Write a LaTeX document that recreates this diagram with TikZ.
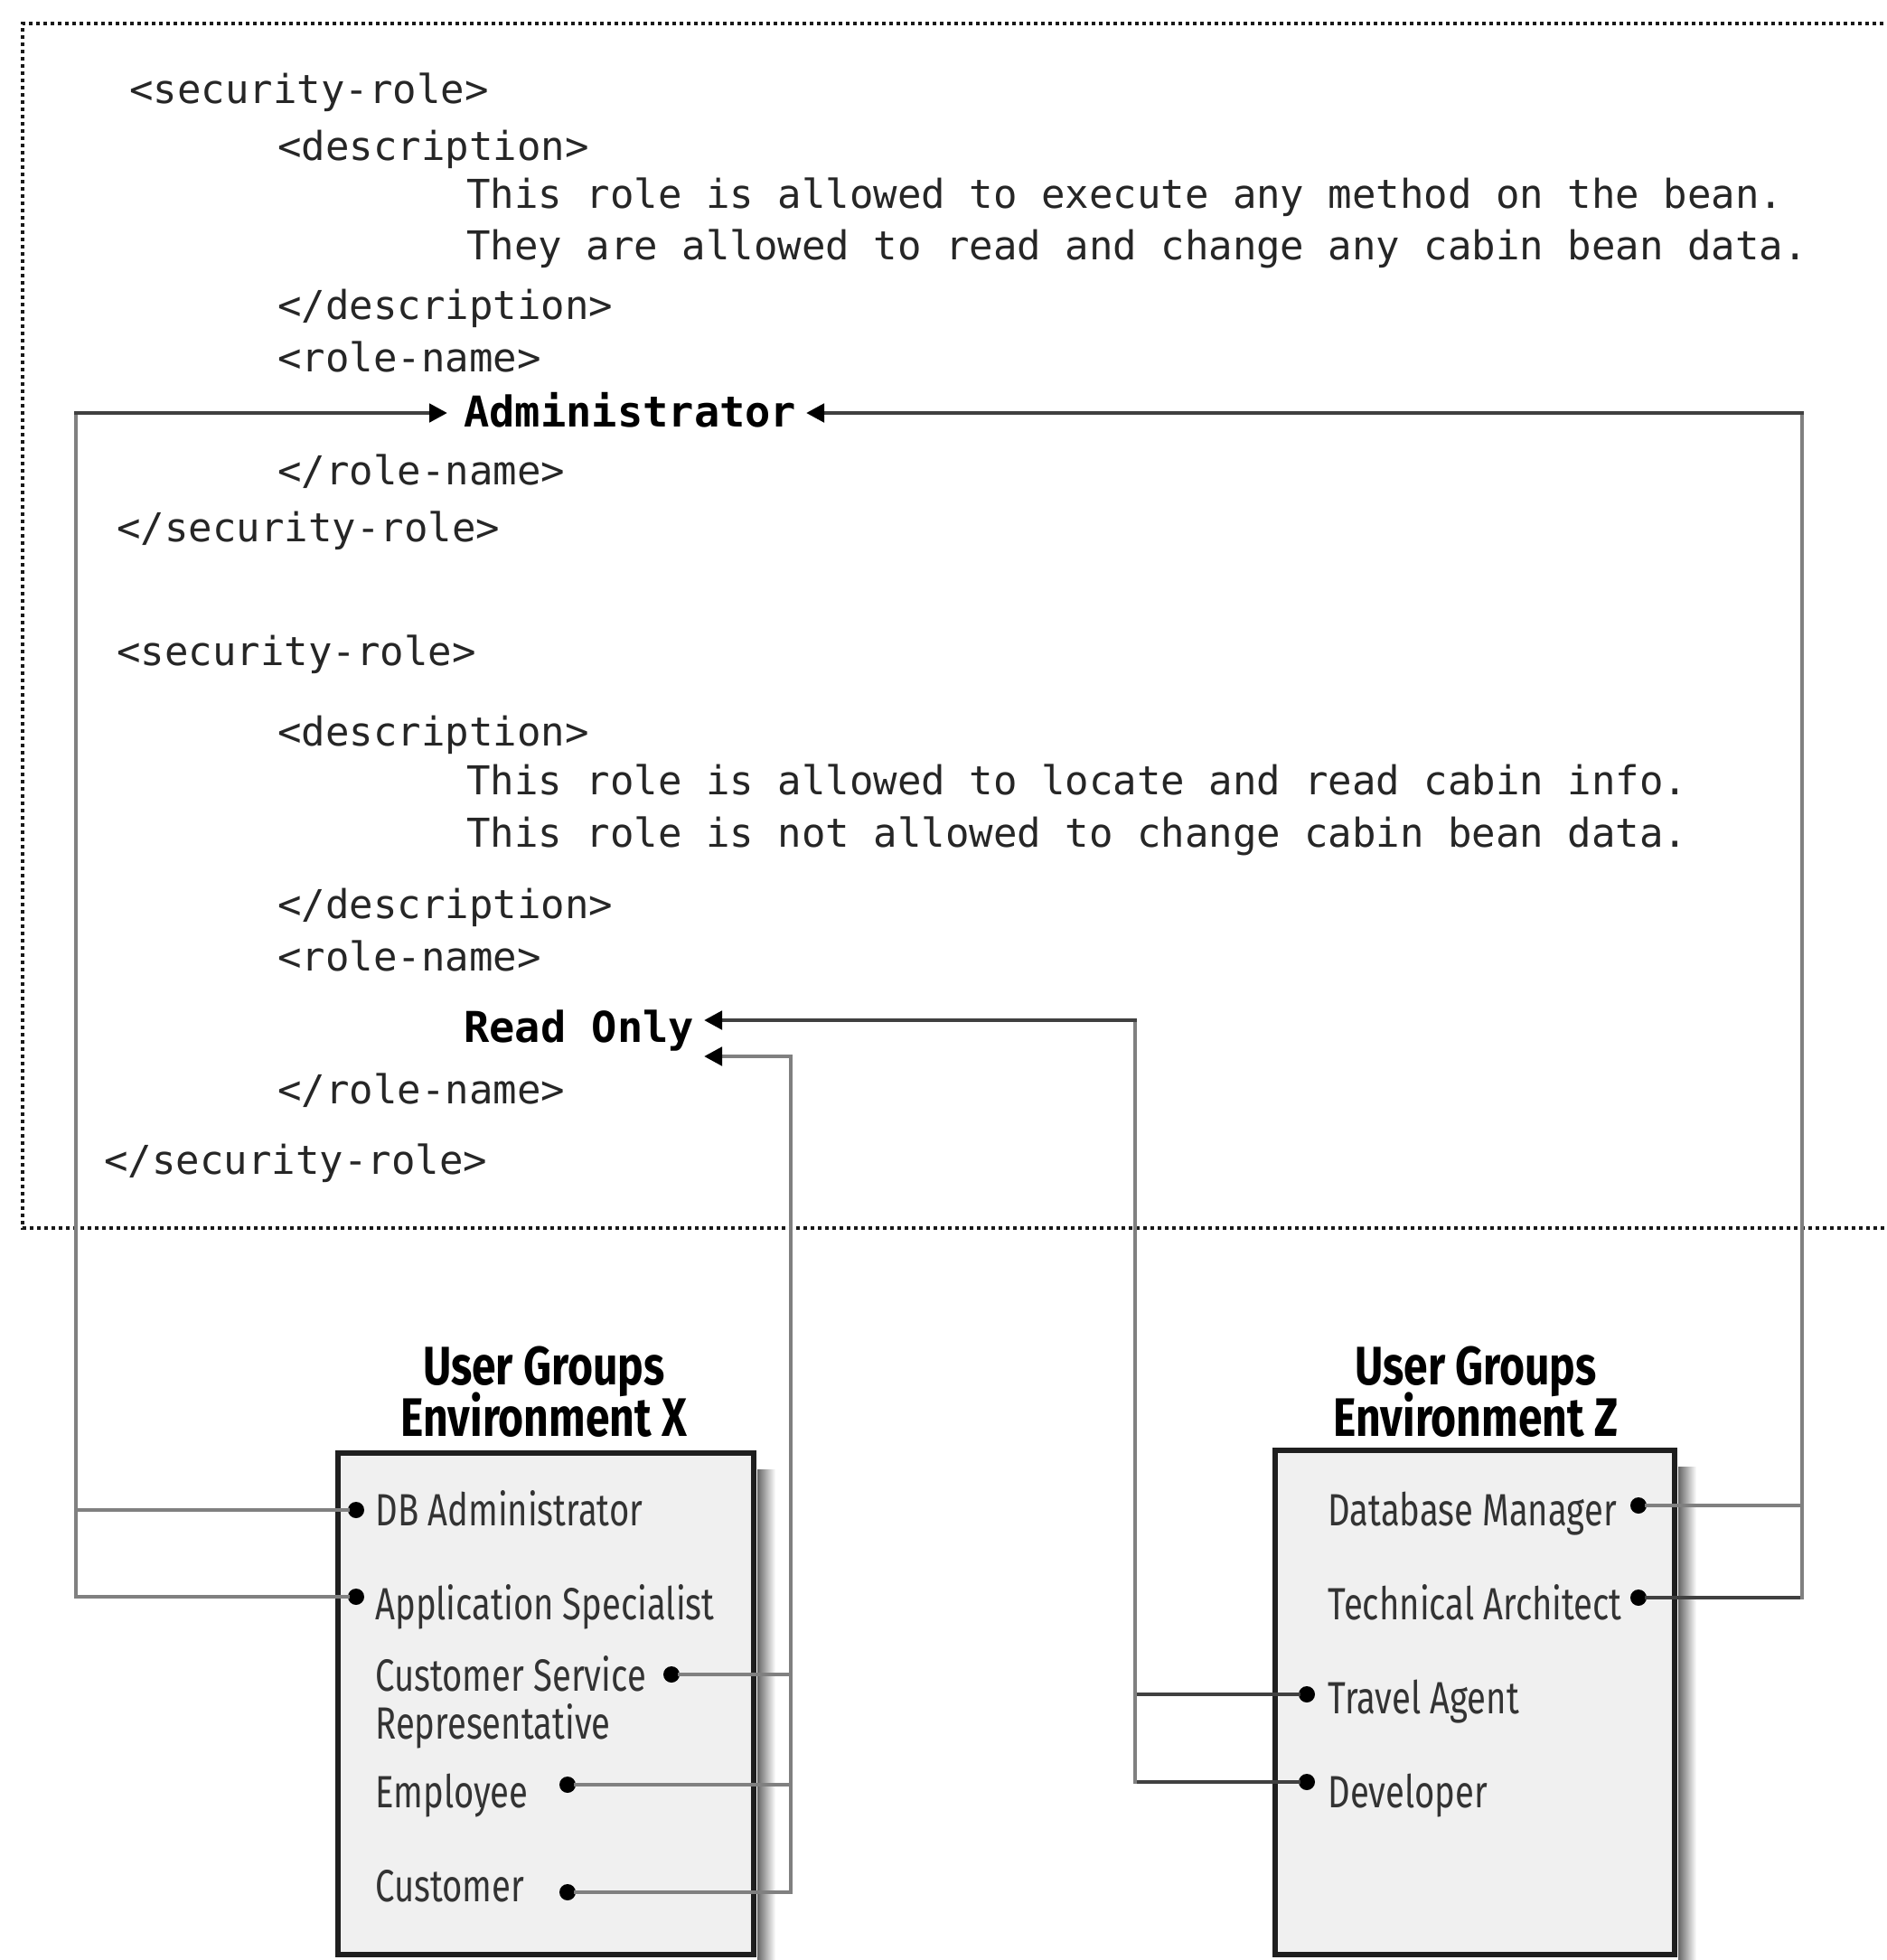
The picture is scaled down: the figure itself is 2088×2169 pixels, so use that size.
\documentclass[tikz,border=0pt]{standalone}
\usepackage{fontspec}
\setmonofont{DejaVu Sans Mono}
\newfontfamily\labfont[FakeStretch=0.765]{Fira Sans}
\newfontfamily\titfont[FakeStretch=0.8]{Fira Sans}
\usetikzlibrary{arrows.meta}
\tikzset{
  code/.style={font=\fontsize{22}{26}\selectfont\ttfamily, anchor=base west, inner sep=0pt, text=black!85},
  codeb/.style={font=\fontsize{23.5}{26}\selectfont\ttfamily\bfseries, anchor=base west, inner sep=0pt, text=black},
  lab/.style={font=\fontsize{25}{30}\selectfont\labfont, anchor=base west, inner sep=0pt, text=black!80},
  tit/.style={font=\fontsize{30}{30}\selectfont\titfont\bfseries, anchor=base, inner sep=0pt, text=black},
  dotn/.style={circle, fill=black, inner sep=0pt, minimum size=9pt},
  darkln/.style={draw=black!75, line width=2.4pt, line cap=rect},
  grayln/.style={draw=black!50, line width=2.4pt, line cap=rect},
  tipst/.style={-{Triangle[length=10pt,width=10pt,color=black]}},
  frame/.style={draw=black!90, line width=2.2pt, dash pattern=on 2pt off 2pt},
  boxst/.style={draw=black!88, line width=2.6pt, fill=black!6},
}
\begin{document}
\begin{tikzpicture}[x=0.5pt,y=-0.5pt]
\useasboundingbox (0,0) rectangle (2088,2169);
\clip (0,0) rectangle (2088,2169);
\fill[white] (0,0) rectangle (2088,2169);

% dotted frame
\draw[frame] (2100,26) -- (25,26) -- (25,1359) -- (2100,1359);

% code text
\node[code] (t1) at (143,114) {<security-role>};
\node[code] (t2) at (307,177) {<description>};
\node[code] (t3) at (516,230) {This role is allowed to execute any method on the bean.};
\node[code] (t4) at (516,287) {They are allowed to read and change any cabin bean data.};
\node[code] (t5) at (307,353) {</description>};
\node[code] (t6) at (307,411) {<role-name>};
\node[codeb] (admin) at (513,472) {Administrator};
\node[code] (t8) at (307,536) {</role-name>};
\node[code] (t9) at (129,599) {</security-role>};
\node[code] (t10) at (129,736) {<security-role>};
\node[code] (t11) at (307,825) {<description>};
\node[code] (t12) at (516,879) {This role is allowed to locate and read cabin info.};
\node[code] (t13) at (516,937) {This role is not allowed to change cabin bean data.};
\node[code] (t14) at (307,1016) {</description>};
\node[code] (t15) at (307,1074) {<role-name>};
\node[codeb] (readonly) at (513,1153) {Read Only};
\node[code] (t17) at (307,1221) {</role-name>};
\node[code] (t18) at (115,1299) {</security-role>};

% group boxes with shadow
\shade[left color=black!60, right color=white] (838,1626) rectangle (858,2169);
\shade[left color=black!60, right color=white] (1857,1623) rectangle (1877,2169);
\path[boxst] (374,1608) coordinate (bxA) rectangle (834,2163) coordinate (bxB);
\path[boxst] (1411,1605) coordinate (bzA) rectangle (1853,2163) coordinate (bzB);

% titles
\node[tit] (gx1) at (602,1532) {User Groups};
\node[tit] (gx2) at (602,1589) {Environment X};
\node[tit] (gz1) at (1633,1532) {User Groups};
\node[tit] (gz2) at (1633,1589) {Environment Z};

% labels environment X
\node[lab] (lDBA) at (415,1688) {DB Administrator};
\node[lab] (lAS) at (415,1792) {Application Specialist};
\node[lab] (lCSR1) at (415,1871) {Customer Service};
\node[lab] (lCSR2) at (415,1924) {Representative};
\node[lab] (lEmp) at (415,2000) {Employee};
\node[lab] (lCus) at (415,2104) {Customer};

% labels environment Z
\node[lab] (lDBM) at (1469,1688) {Database Manager};
\node[lab] (lTA) at (1469,1792) {Technical Architect};
\node[lab] (lTrv) at (1469,1896) {Travel Agent};
\node[lab] (lDev) at (1469,2000) {Developer};

% dots
\node[dotn] (dDBA) at (394,1671) {};
\node[dotn] (dAS) at (394,1767) {};
\node[dotn] (dCSR) at (743,1853) {};
\node[dotn] (dEmp) at (628,1975) {};
\node[dotn] (dCus) at (628,2094) {};
\node[dotn] (dDBM) at (1813,1666) {};
\node[dotn] (dTA) at (1813,1768) {};
\node[dotn] (dTrv) at (1446,1875) {};
\node[dotn] (dDev) at (1446,1972) {};

% connector corners and arrow tips
\coordinate (cAL) at (84,457);
\coordinate (tAL) at (495,457);
\coordinate (cAR) at (1994,457);
\coordinate (tAR) at (892,457);
\coordinate (cR1) at (1256,1129);
\coordinate (tR1) at (779,1129);
\coordinate (cR2) at (875,1169);
\coordinate (tR2) at (779,1169);

% Administrator (left)
\draw[grayln] (dAS) -- (dAS -| cAL) -- (cAL);
\draw[grayln] (dDBA) -- (dDBA -| cAL);
\draw[darkln, tipst] (cAL) -- (tAL);

% Administrator (right)
\draw[darkln] (dTA) -- (dTA -| cAR);
\draw[grayln] (dTA -| cAR) -- (cAR);
\draw[grayln] (dDBM) -- (dDBM -| cAR);
\draw[darkln, tipst] (cAR) -- (tAR);

% Read Only (upper)
\draw[darkln] (dDev) -- (dDev -| cR1);
\draw[darkln] (dTrv) -- (dTrv -| cR1);
\draw[grayln] (dDev -| cR1) -- (cR1);
\draw[darkln, tipst] (cR1) -- (tR1);

% Read Only (lower)
\draw[grayln] (dCus) -- (dCus -| cR2) -- (cR2);
\draw[grayln] (dEmp) -- (dEmp -| cR2);
\draw[grayln] (dCSR) -- (dCSR -| cR2);
\draw[grayln, tipst] (cR2) -- (tR2);
\end{tikzpicture}
\end{document}
